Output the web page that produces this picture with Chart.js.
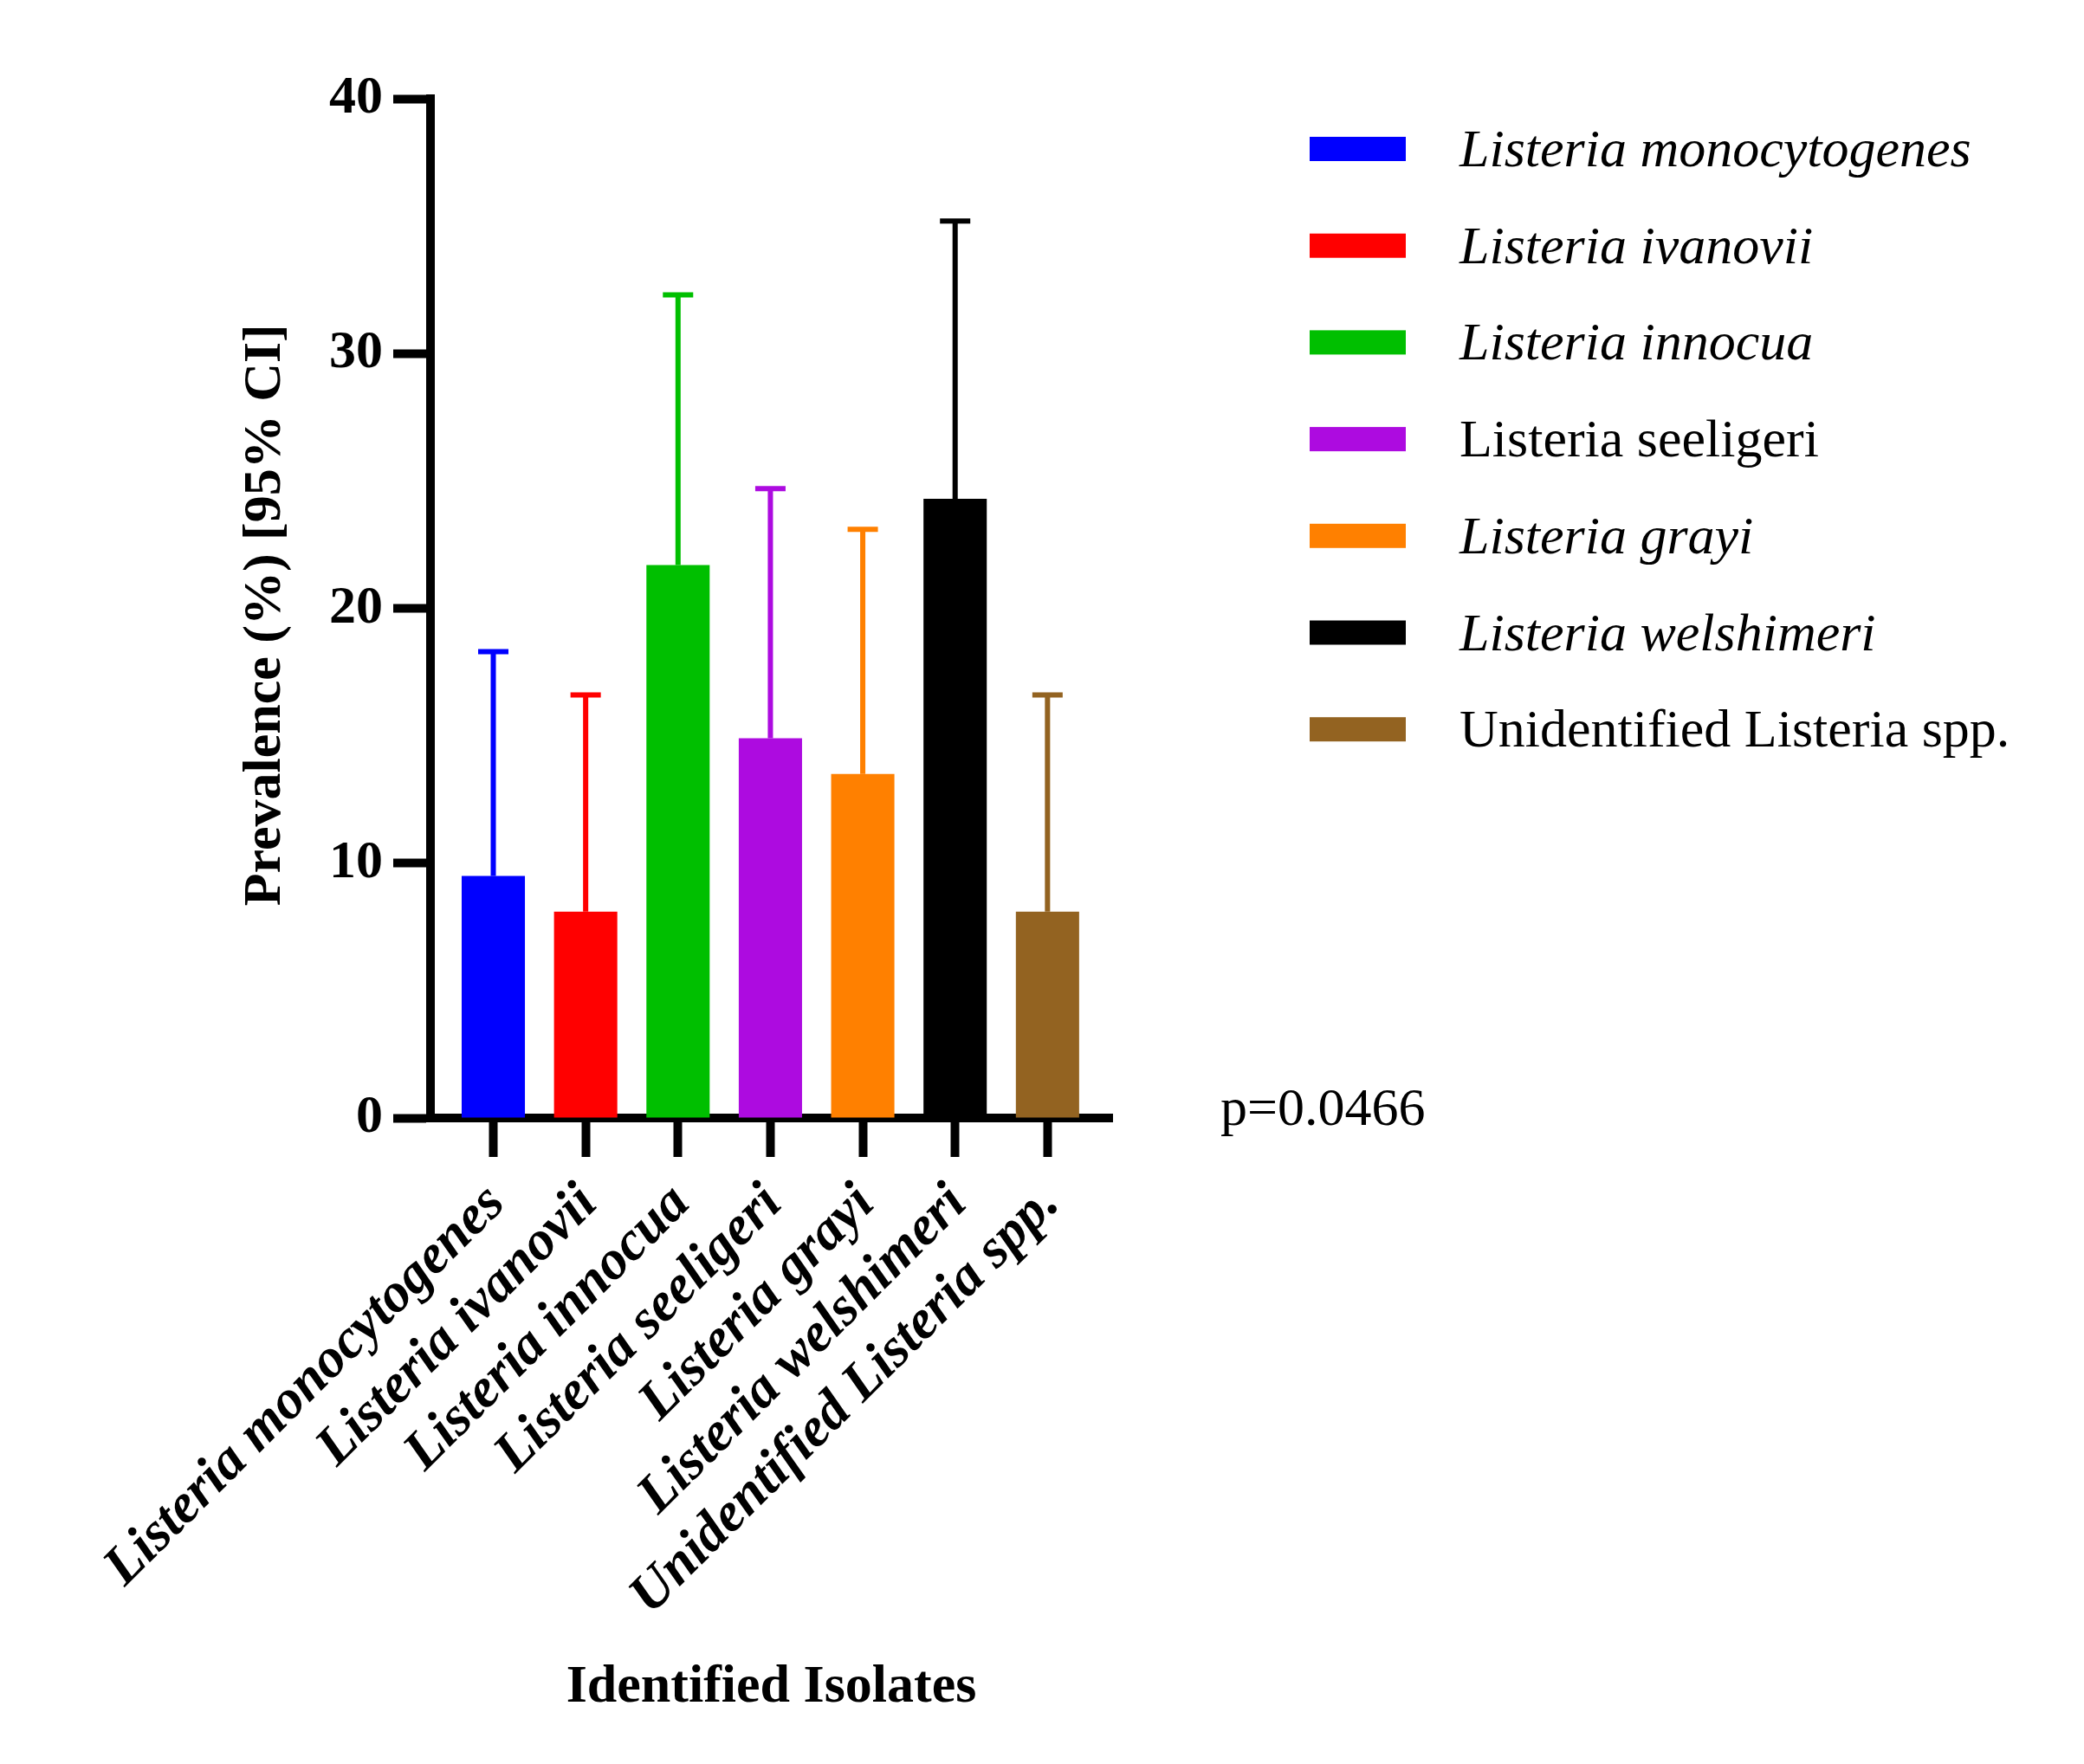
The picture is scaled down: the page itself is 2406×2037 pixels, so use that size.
<!DOCTYPE html>
<html>
<head>
<meta charset="utf-8">
<script src="https://cdn.jsdelivr.net/npm/chart.js@4.4.1/dist/chart.umd.min.js"></script>
<style>
  body { margin: 0; background: #fff; }
  canvas { display: block; }
</style>
</head>
<body>
<canvas id="prevalenceChart" width="2406" height="2037"></canvas>
<script>
// data
const isolates = [
  'Listeria monocytogenes',
  'Listeria ivanovii',
  'Listeria innocua',
  'Listeria seeligeri',
  'Listeria grayi',
  'Listeria welshimeri',
  'Unidentified Listeria spp.'
];
const prevalence = [9.5, 8.1, 21.7, 14.9, 13.5, 24.3, 8.1];
const ciUpper = [18.3, 16.6, 32.3, 24.7, 23.1, 35.2, 16.6];
const yTicks = [0, 10, 20, 30, 40];
const pValue = 'p=0.0466';

const barColors = ['#0000FF', '#FF0000', '#00BF00', '#AD0BE0', '#FF8000', '#000000', '#936321'];
const legendItalic = [true, true, true, false, true, true, false];

const serif = "'Liberation Serif', 'Times New Roman', serif";

// error bars (upper half of the 95% CI only)
const errorBars = {
    id: 'errorBars',
    afterDatasetsDraw(chart) {
        const ctx = chart.ctx;
        const yScale = chart.scales.y;
        const meta = chart.getDatasetMeta(0);
        ctx.save();
        ctx.lineWidth = 6;
        meta.data.forEach((bar, i) => {
            const top = yScale.getPixelForValue(ciUpper[i]);
            ctx.strokeStyle = barColors[i];
            ctx.beginPath();
            ctx.moveTo(bar.x, bar.y);
            ctx.lineTo(bar.x, top);
            ctx.moveTo(bar.x - 17.5, top);
            ctx.lineTo(bar.x + 17.5, top);
            ctx.stroke();
        });
        ctx.restore();
    }
};

// legend and p value, drawn by hand so some entries can be upright
const sideText = {
    id: 'sideText',
    afterDraw(chart) {
        const ctx = chart.ctx;
        const area = chart.chartArea;
        ctx.save();
        const boxX = area.right + 228;
        isolates.forEach((name, i) => {
            const cy = 172 + i * 111.7;
            ctx.fillStyle = barColors[i];
            ctx.fillRect(boxX, cy - 14, 111, 28);
            ctx.fillStyle = '#000';
            ctx.font = (legendItalic[i] ? 'italic ' : '') + '62px ' + serif;
            ctx.textAlign = 'left';
            ctx.textBaseline = 'alphabetic';
            ctx.fillText(name, boxX + 173, cy + 20);
        });
        ctx.font = '62px ' + serif;
        ctx.fillText(pValue, area.right + 125, area.bottom + 8);
        ctx.restore();
    }
};

new Chart(document.getElementById('prevalenceChart').getContext('2d'), {
    type: 'bar',
    data: {
        datasets: [{
            data: prevalence.map((v, i) => ({ x: i, y: v })),
            backgroundColor: barColors,
            borderWidth: 0,
            barPercentage: 0.685,
            categoryPercentage: 1
        }]
    },
    options: {
        responsive: false,
        animation: false,
        layout: { padding: { left: 0, right: 1122, top: 114, bottom: 0 } },
        plugins: {
            legend: { display: false },
            tooltip: { enabled: false }
        },
        scales: {
            x: {
                type: 'linear',
                min: -0.68,
                max: 6.7,
                offset: false,
                afterBuildTicks: (scale) => {
                    scale.ticks = isolates.map((_, i) => ({ value: i }));
                },
                afterFit: (scale) => { scale.height = 746; },
                border: { display: true, width: 10, color: '#000' },
                grid: { offset: false, drawOnChartArea: false, tickLength: 45, tickWidth: 10, tickColor: '#000' },
                ticks: {
                    includeBounds: false,
                    autoSkip: false,
                    minRotation: 45,
                    maxRotation: 45,
                    padding: 17,
                    labelOffset: 4,
                    color: '#000',
                    font: { family: serif, size: 64, weight: 'bold', style: 'italic' },
                    callback: (v) => isolates[v]
                },
                title: {
                    display: true,
                    text: 'Identified Isolates',
                    color: '#000',
                    font: { family: serif, size: 62, weight: 'bold' },
                    padding: { top: 0, bottom: 51 }
                }
            },
            y: {
                min: 0,
                max: 40,
                afterBuildTicks: (scale) => {
                    scale.ticks = yTicks.map(v => ({ value: v }));
                },
                afterFit: (scale) => { scale.width = 497; },
                border: { display: true, width: 10, color: '#000' },
                grid: { drawOnChartArea: false, tickLength: 43, tickWidth: 10, tickColor: '#000' },
                ticks: {
                    padding: 12,
                    color: '#000',
                    font: { family: serif, size: 62, weight: 'bold' }
                },
                title: {
                    display: true,
                    text: 'Prevalence (%) [95% CI] ',
                    color: '#000',
                    font: { family: serif, size: 62, weight: 'bold' },
                    padding: { top: 270, bottom: 0 }
                }
            }
        }
    },
    plugins: [errorBars, sideText]
});
</script>
</body>
</html>
